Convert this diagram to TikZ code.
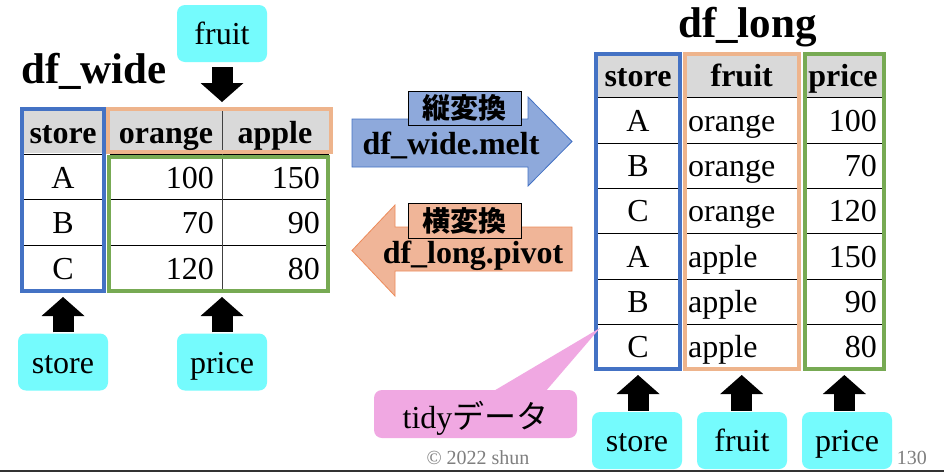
\documentclass[tikz,border=0pt]{standalone}
\usepackage{fontspec}
\setmainfont{Liberation Serif}
\newfontfamily\cjk{Noto Sans CJK JP}
\usetikzlibrary{arrows.meta}
\definecolor{bluebox}{HTML}{4472C4}
\definecolor{orbox}{HTML}{EEB48C}
\definecolor{grbox}{HTML}{77AA53}
\definecolor{hdr}{HTML}{D9D9D9}
\definecolor{cyanb}{HTML}{75FBFD}
\definecolor{pinkb}{HTML}{F0A8E2}
\definecolor{blarrow}{HTML}{8EA9DB}
\definecolor{blarrowline}{HTML}{4472C4}
\definecolor{orarrow}{HTML}{F0B598}
\definecolor{orarrowline}{HTML}{ED8B5A}
\definecolor{foot}{HTML}{7F7F7F}
\tikzset{
  txt/.style={font=\fontsize{32}{32}\selectfont, inner sep=0pt},
  btxt/.style={font=\fontsize{32}{32}\selectfont\bfseries, inner sep=0pt},
  dftitle/.style={font=\fontsize{43}{43}\selectfont\bfseries, inner sep=0pt, anchor=base west},
  colbox/.style={draw=#1, line width=4pt, inner sep=0pt},
  tag/.style={fill=cyanb, rounded corners=8pt, minimum width=90pt, minimum height=57pt,
    inner sep=0pt, text height=26pt, text depth=4pt, font=\fontsize{32}{32}\selectfont},
  blk/.style={line width=21pt, -{Triangle[length=19pt,width=43pt,line width=0pt]}},
  rowline/.style={line width=1pt, black},
  lab/.style={draw=black, line width=0.8pt, minimum width=113pt, minimum height=34pt,
    inner sep=0pt, font={\cjk\bfseries\fontsize{28}{28}\selectfont}},
}
\begin{document}
\begin{tikzpicture}[x=1pt,y=-1pt]
\useasboundingbox (0,0) rectangle (944,472);
\fill[white] (0,0) rectangle (944,472);

% ---------- df_wide ----------
\node[dftitle] (tw) at (21,83) {df\_wide};
\fill[hdr] (22,110) rectangle (104,153);
\fill[hdr] (110,110) rectangle (329,153);
\foreach \yy in {154,199,245}{
  \draw[rowline] (22,\yy) -- (104,\yy);
  \draw[rowline] (110,\yy) -- (329,\yy);
}
\draw[line width=0.8pt, black!75] (222,110) -- (222,290);

\node[colbox=bluebox, minimum width=82pt, minimum height=182pt] (wstore) at (63,200) {};
\node[colbox=orbox, minimum width=223pt, minimum height=43pt] (wfruit) at (219.5,130.5) {};
\node[colbox=grbox, minimum width=219pt, minimum height=134pt] (wprice) at (218.5,224) {};

\node[btxt, anchor=base] (wh1) at (63,143) {store};
\node[btxt, anchor=base] (wh2) at (166,143) {orange};
\node[btxt, anchor=base] (wh3) at (275,143) {apple};
\node[txt, anchor=base] (wa) at (63,188) {A};
\node[txt, anchor=base] (wb) at (63,233.5) {B};
\node[txt, anchor=base] (wc) at (63,279) {C};
\node[txt, anchor=base east] (wo1) at (214,188) {100};
\node[txt, anchor=base east] (wo2) at (214,233.5) {70};
\node[txt, anchor=base east] (wo3) at (214,279) {120};
\node[txt, anchor=base east] (wp1) at (320,188) {150};
\node[txt, anchor=base east] (wp2) at (320,233.5) {90};
\node[txt, anchor=base east] (wp3) at (320,279) {80};

\node[tag] (tfruitL) at (222,33.5) {fruit};
\node[tag] (tstoreL) at (63,362) {store};
\node[tag] (tpriceL) at (222,362) {price};
\draw[blk, shorten <=5pt, shorten >=5pt] (tfruitL.south) -- (tfruitL.south |- wfruit.north);
\draw[blk, shorten <=1pt, shorten >=4pt] (tstoreL.north) -- (tstoreL.north |- wstore.south);
\draw[blk, shorten <=1pt, shorten >=4pt] (tpriceL.north) -- (tpriceL.north |- wprice.south);

% ---------- middle arrows ----------
\filldraw[fill=blarrow, draw=blarrowline, line width=0.8pt]
  (352,119) -- (528,119) -- (528,97) -- (572,141.5) -- (528,186) -- (528,167) -- (352,167) -- cycle;
\node[lab, fill=blarrow] (l1) at (464.5,108) {縦変換};
\node[btxt, anchor=base] (melt) at (451,154) {df\_wide.melt};

\filldraw[fill=orarrow, draw=orarrowline, line width=0.8pt]
  (352,250.5) -- (395,205) -- (395,227) -- (572,227) -- (572,271) -- (395,271) -- (395,296) -- cycle;
\node[lab, fill=orarrow, minimum height=35pt] (l2) at (464.5,220.5) {横変換};
\node[btxt, anchor=base] (pivot) at (473,263) {df\_long.pivot};

% ---------- df_long ----------
\node[dftitle] (tl) at (678,37) {df\_long};
\fill[hdr] (598,56) rectangle (678,97);
\fill[hdr] (686,56) rectangle (797,97);
\fill[hdr] (806,56) rectangle (883,97);
\foreach \yy in {97,143,188,233,279,324}{
  \draw[rowline] (598,\yy) -- (678,\yy);
  \draw[rowline] (686,\yy) -- (797,\yy);
  \draw[rowline] (806,\yy) -- (883,\yy);
}
\node[colbox=bluebox, minimum width=83.4pt, minimum height=315.3pt] (lstore) at (638,211.35) {};
\node[colbox=orbox, minimum width=114pt, minimum height=315.3pt] (lfruit) at (741.7,211.35) {};
\node[colbox=grbox, minimum width=79.3pt, minimum height=315.3pt] (lprice) at (844.35,211.35) {};

\node[btxt, anchor=base] (lh1) at (638,86) {store};
\node[btxt, anchor=base] (lh2) at (741.7,86) {fruit};
\node[btxt, anchor=base] (lh3) at (843,86) {price};

\node[txt, anchor=base] (ls1) at (638,131) {A};
\node[txt, anchor=base] (ls2) at (638,176.5) {B};
\node[txt, anchor=base] (ls3) at (638,221.5) {C};
\node[txt, anchor=base] (ls4) at (638,267) {A};
\node[txt, anchor=base] (ls5) at (638,312.5) {B};
\node[txt, anchor=base] (ls6) at (638,357.5) {C};
\node[txt, anchor=base west] (lf1) at (688,131) {orange};
\node[txt, anchor=base west] (lf2) at (688,176.5) {orange};
\node[txt, anchor=base west] (lf3) at (688,221.5) {orange};
\node[txt, anchor=base west] (lf4) at (688,267) {apple};
\node[txt, anchor=base west] (lf5) at (688,312.5) {apple};
\node[txt, anchor=base west] (lf6) at (688,357.5) {apple};
\node[txt, anchor=base east] (lp1) at (877,131) {100};
\node[txt, anchor=base east] (lp2) at (877,176.5) {70};
\node[txt, anchor=base east] (lp3) at (877,221.5) {120};
\node[txt, anchor=base east] (lp4) at (877,267) {150};
\node[txt, anchor=base east] (lp5) at (877,312.5) {90};
\node[txt, anchor=base east] (lp6) at (877,357.5) {80};

\node[tag] (tstoreR) at (637,440.5) {store};
\node[tag] (tfruitR) at (742,440.5) {fruit};
\node[tag] (tpriceR) at (847,440.5) {price};
\draw[blk, shorten <=1pt, shorten >=4pt] (tstoreR.north -| lstore.south) -- (lstore.south);
\draw[blk, shorten <=1pt, shorten >=4pt] (tfruitR.north -| lfruit.south) -- (lfruit.south);
\draw[blk, shorten <=1pt, shorten >=4pt] (tpriceR.north -| lprice.south) -- (lprice.south);

% ---------- callout ----------
\coordinate (tip) at (600,328);
\node[fill=pinkb, rounded corners=8pt, minimum width=203pt, minimum height=48pt, inner sep=0pt,
  text height=34pt, text depth=6pt, font=\fontsize{32}{32}\selectfont] (tidy) at (475.5,414)
  {tidy{\cjk データ}};
\fill[pinkb] (492,392) -- (tip) -- (545,392) -- cycle;

% ---------- footer ----------
\node[anchor=base, inner sep=0pt, font=\fontsize{20}{20}\selectfont, text=foot] (copy) at (478,464) {© 2022 shun};
\node[anchor=base east, inner sep=0pt, font=\fontsize{20}{20}\selectfont, text=foot] (pg) at (927,464) {130};
\draw[line width=2pt, black!80] (0,471) -- (944,471);
\end{tikzpicture}
\end{document}
